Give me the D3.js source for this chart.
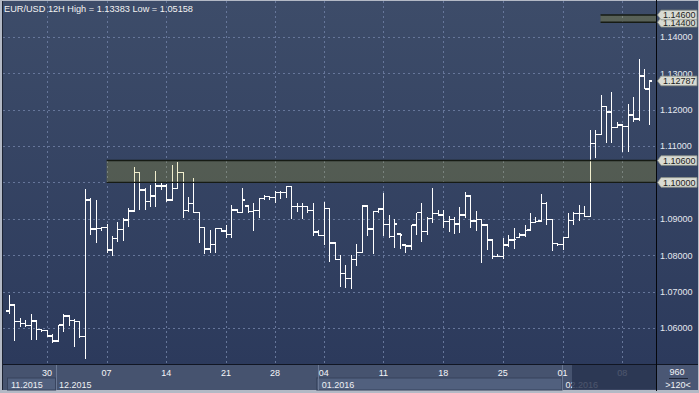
<!DOCTYPE html>
<html>
<head>
<meta charset="utf-8">
<script src="https://cdn.jsdelivr.net/npm/d3@7"></script>
<style>
body { margin: 0; background: #b3b9c5; }
svg { display: block; font-family: "Liberation Sans", Arial, sans-serif; }
</style>
</head>
<body>
<svg id="chart" width="699" height="393"></svg>
<script>
// EUR/USD 12H bars (index 0 = first bar on the left)
var opens = [1.06467,1.06632,1.06179,1.06129,1.06063,1.06192,1.05953,1.05931,1.05775,1.05643,
  1.06082,1.06330,1.06212,1.06173,1.05766,1.09517,1.08720,1.08739,1.08756,1.08143,
  1.08464,1.08706,1.08967,1.09214,1.10278,1.09791,1.09470,1.09626,1.09901,1.09901,
  1.09517,1.09838,1.10278,1.09223,1.09426,1.09179,1.08767,1.08170,1.08300,1.08739,
  1.08665,1.08574,1.09242,1.09179,1.09352,1.09195,1.09223,1.09563,1.09618,1.09591,
  1.09717,1.09717,1.09882,1.09332,1.09332,1.09332,1.09228,1.08637,1.08536,1.09283,
  1.08335,1.07882,1.07503,1.07365,1.07876,1.08080,1.09352,1.08714,1.09195,1.09269,
  1.08849,1.08508,1.08582,1.08280,1.08253,1.08830,1.09168,1.08646,1.09014,1.09151,
  1.09104,1.08920,1.08986,1.08857,1.09104,1.09626,1.08940,1.08986,1.08830,1.08418,
  1.07959,1.07959,1.08280,1.08418,1.08492,1.08555,1.08692,1.08904,1.08940,1.09426,
  1.08986,1.08327,1.08300,1.08492,1.08948,1.09151,1.09151,1.09063,1.11074,1.11322,
  1.12080,1.11934,1.11508,1.11577,1.11541,1.11852,1.11742,1.12929,1.12571];
var highs = [1.06907,1.06632,1.06266,1.06220,1.06371,1.06192,1.05973,1.05945,1.05835,1.06082,
  1.06376,1.06343,1.06239,1.06192,1.09811,1.09563,1.09517,1.08783,1.08857,1.08527,
  1.08912,1.09014,1.09297,1.10423,1.10278,1.09838,1.09929,1.10313,1.09975,1.09948,
  1.10478,1.10569,1.10278,1.09607,1.10113,1.09179,1.08783,1.08692,1.08739,1.08756,
  1.08830,1.09379,1.09242,1.09838,1.09352,1.09426,1.09580,1.09654,1.09626,1.09772,
  1.09764,1.09901,1.09901,1.09426,1.09426,1.09365,1.09426,1.08692,1.09470,1.09283,
  1.08371,1.08006,1.07731,1.08006,1.08300,1.09387,1.09352,1.09214,1.09289,1.09701,
  1.09104,1.08986,1.08582,1.08280,1.08830,1.09168,1.09426,1.09058,1.09838,1.09242,
  1.09242,1.09085,1.09058,1.09332,1.09745,1.09654,1.09214,1.08986,1.08830,1.08418,
  1.08025,1.08464,1.08555,1.08739,1.08602,1.08830,1.09168,1.09058,1.09673,1.09470,
  1.08986,1.08327,1.08508,1.09151,1.09195,1.09387,1.09338,1.11440,1.11440,1.12401,
  1.12080,1.12492,1.11668,1.11604,1.12154,1.12355,1.13383,1.13107,1.12813];
var lows = [1.06376,1.05643,1.06014,1.06036,1.05670,1.05684,1.05890,1.05753,1.05580,1.05615,
  1.05890,1.06055,1.05486,1.05725,1.05158,1.08555,1.08343,1.08673,1.08060,1.07978,
  1.08363,1.08398,1.08783,1.09187,1.09242,1.09242,1.09332,1.09332,1.09791,1.09470,
  1.09517,1.09838,1.09030,1.09195,1.09168,1.08343,1.08025,1.08052,1.08069,1.08629,
  1.08464,1.08464,1.09168,1.09179,1.09168,1.08673,1.09030,1.09517,1.09517,1.09426,
  1.09544,1.09563,1.08986,1.09179,1.08995,1.09159,1.08527,1.08527,1.08267,1.07822,
  1.07868,1.07113,1.07091,1.07071,1.07703,1.08080,1.08527,1.08025,1.09168,1.08527,
  1.08464,1.08190,1.08170,1.08069,1.08143,1.08555,1.08371,1.08555,1.08876,1.09077,
  1.08739,1.08646,1.08582,1.08602,1.09014,1.08739,1.08665,1.07778,1.08143,1.07887,
  1.07942,1.07887,1.08234,1.08170,1.08492,1.08492,1.08692,1.08893,1.08940,1.08830,
  1.08115,1.08261,1.08143,1.08464,1.08843,1.08940,1.09050,1.09050,1.10670,1.11302,
  1.11074,1.11074,1.11486,1.10844,1.10844,1.11646,1.11692,1.12566,1.11577];
var closes = [1.06632,1.06179,1.06129,1.06063,1.06192,1.05953,1.05931,1.05775,1.05643,1.06082,
  1.06330,1.06212,1.06173,1.05766,1.09517,1.08720,1.08739,1.08756,1.08143,1.08464,
  1.08706,1.08967,1.09214,1.10278,1.09791,1.09470,1.09626,1.09901,1.09901,1.09517,
  1.09838,1.10278,1.09223,1.09426,1.09179,1.08767,1.08170,1.08300,1.08739,1.08665,
  1.08574,1.09242,1.09179,1.09517,1.09195,1.09223,1.09563,1.09618,1.09591,1.09717,
  1.09717,1.09882,1.09332,1.09332,1.09332,1.09228,1.08637,1.08536,1.09283,1.08335,
  1.07882,1.07503,1.07365,1.07876,1.08080,1.09352,1.08714,1.09195,1.09269,1.08849,
  1.08508,1.08857,1.08555,1.08253,1.08830,1.09168,1.08646,1.09014,1.09151,1.09104,
  1.08920,1.08986,1.08857,1.09104,1.09626,1.08940,1.08986,1.08830,1.08418,1.07959,
  1.07959,1.08280,1.08418,1.08437,1.08555,1.08673,1.08904,1.08920,1.09426,1.08986,
  1.08327,1.08300,1.08492,1.08948,1.09151,1.09151,1.09063,1.11074,1.11322,1.12080,
  1.11934,1.11508,1.11577,1.11541,1.11852,1.11742,1.12929,1.12571,1.12787];

// x axis: bar index of each Monday, and its day label
var dayTickIndex = [7, 18, 29, 40, 49, 58, 69, 80, 91, 102, 113];
var dayTickLabels = ["30", "07", "14", "21", "28", "04", "11", "18", "25", "01", "08"];
// months along the bottom, with the bar index where each one starts
var monthLabels = ["11.2015", "12.2015", "01.2016", "02.2016"];
var monthStartIndex = [-1.1, 8.6, 57, 101.9];

var priceTicks = [1.06, 1.07, 1.08, 1.09, 1.10, 1.11, 1.12, 1.13, 1.14];
var priceTickLabels = ["1.06000", "1.07000", "1.08000", "1.09000", "1.10000", "1.11000", "1.12000", "1.13000", "1.14000"];

// horizontal zones (support / resistance)
var zoneLow = [1.10000, 1.14400];
var zoneHigh = [1.10600, 1.14600];
var zoneStartIndex = [18, 109];

// price tags on the right scale
var tagValues = [1.14400, 1.14600, 1.12787, 1.10600, 1.10000];
var tagLabels = ["1.14400", "1.14600", "1.12787", "1.10600", "1.10000"];

var title = "EUR/USD 12H High = 1.13383 Low = 1.05158";

var svg = d3.select("#chart");
var W = 699, H = 393;
var plotLeft = 3, plotRight = 657, plotTop = 1, plotBottom = 364;

var x = d3.scaleLinear().domain([-1, 119.4]).range([3.5, 657]);
var y = d3.scaleLinear().domain([1.05, 1.15]).range([364.4, 0.4]);
var half = (x(1) - x(0)) / 2;

var defs = svg.append("defs");
var grad = defs.append("linearGradient").attr("id", "bg").attr("x1", 0).attr("x2", 0).attr("y1", 0).attr("y2", 1);
grad.append("stop").attr("offset", "0%").attr("stop-color", "#3d4c69");
grad.append("stop").attr("offset", "100%").attr("stop-color", "#2c3a5c");

// outer frame
svg.append("rect").attr("width", W).attr("height", H).attr("fill", "#b3b9c5");
svg.append("rect")
    .attr("x", plotLeft).attr("y", plotTop)
    .attr("width", W - 1 - plotLeft).attr("height", plotBottom - plotTop)
    .attr("fill", "url(#bg)");
svg.append("line").attr("x1", 2.5).attr("x2", 2.5).attr("y1", 1).attr("y2", 390)
    .attr("stroke", "#1c2333");

// grid
var grid = svg.append("g").attr("stroke", "#66769a").attr("stroke-dasharray", "2,3").attr("shape-rendering", "crispEdges");
grid.selectAll(".hg").data(priceTicks).enter().append("line")
    .attr("x1", plotLeft).attr("x2", plotRight)
    .attr("y1", function(d) { return Math.round(y(d)) + 0.5; })
    .attr("y2", function(d) { return Math.round(y(d)) + 0.5; });
grid.selectAll(".vg").data(dayTickIndex).enter().append("line")
    .attr("y1", plotTop).attr("y2", plotBottom)
    .attr("x1", function(d) { return Math.round(x(d)) + 0.5; })
    .attr("x2", function(d) { return Math.round(x(d)) + 0.5; });

// OHLC bars
var bars = svg.append("g").attr("stroke", "#ffffff").attr("shape-rendering", "crispEdges");
var idx = d3.range(closes.length);
bars.selectAll(".hl").data(idx).enter().append("line")
    .attr("stroke-width", 1.2)
    .attr("x1", function(i) { return Math.round(x(i)) + 0.5; })
    .attr("x2", function(i) { return Math.round(x(i)) + 0.5; })
    .attr("y1", function(i) { return y(highs[i]); })
    .attr("y2", function(i) { return y(lows[i]); });
bars.selectAll(".op").data(idx).enter().append("line")
    .attr("stroke-width", 1.5)
    .attr("x1", function(i) { return x(i) - half; })
    .attr("x2", function(i) { return Math.round(x(i)) + 0.5; })
    .attr("y1", function(i) { return y(opens[i]); })
    .attr("y2", function(i) { return y(opens[i]); });
bars.selectAll(".cl").data(idx).enter().append("line")
    .attr("stroke-width", 1.5)
    .attr("x1", function(i) { return Math.round(x(i)) + 0.5; })
    .attr("x2", function(i) { return x(i) + half; })
    .attr("y1", function(i) { return y(closes[i]); })
    .attr("y2", function(i) { return y(closes[i]); });

// zones drawn over the bars
var zones = svg.append("g");
zoneLow.forEach(function(lo, k) {
    var x0 = x(zoneStartIndex[k]), y0 = y(zoneHigh[k]), y1 = y(lo);
    zones.append("rect")
        .attr("x", x0).attr("y", y0)
        .attr("width", plotRight - x0).attr("height", y1 - y0)
        .attr("fill", "#bdb31c").attr("fill-opacity", 0.22);
    zones.append("line").attr("x1", x0).attr("x2", plotRight).attr("y1", y0).attr("y2", y0)
        .attr("stroke", "#161b14").attr("stroke-width", 1.4);
    zones.append("line").attr("x1", x0).attr("x2", plotRight).attr("y1", y1).attr("y2", y1)
        .attr("stroke", "#161b14").attr("stroke-width", 1.4);
});

// title
svg.append("text").attr("x", 4).attr("y", 11.5)
    .attr("fill", "#f2f2f2").attr("font-size", "9.2px")
    .text(title);

// right price scale (a label sitting exactly under a tag is hidden by it)
svg.append("line").attr("x1", 656.5).attr("x2", 656.5).attr("y1", 0).attr("y2", 391)
    .attr("stroke", "#05070c").attr("stroke-width", 1);
var shownTicks = priceTicks.filter(function(d) {
    return tagValues.every(function(v) { return Math.abs(v - d) > 1e-6; });
});
svg.selectAll(".pl").data(shownTicks).enter().append("text")
    .attr("x", 660).attr("y", function(d) { return y(d) + 3.3; })
    .attr("fill", "#e4e8f0").attr("font-size", "9px")
    .text(function(d) { return priceTickLabels[priceTicks.indexOf(d)]; });

var tags = svg.append("g");
tagValues.forEach(function(v, k) {
    var cy = y(v);
    var pts = [[657.5, cy], [661, cy - 4.8], [697, cy - 4.8], [697, cy + 4.8], [661, cy + 4.8]];
    tags.append("path")
        .attr("d", "M" + pts.join("L") + "Z")
        .attr("fill", "#d9dbd3").attr("stroke", "#8a8f86").attr("stroke-width", 0.8);
    tags.append("text").attr("x", 663).attr("y", cy + 3.3)
        .attr("fill", "#1b1d22").attr("font-size", "9px")
        .text(tagLabels[k]);
});

// bottom time scale
var axis = svg.append("g");
axis.append("rect").attr("x", plotLeft).attr("y", 364).attr("width", 654).attr("height", 26)
    .attr("fill", "#46536f");
monthLabels.forEach(function(m, k) {
    var x0 = Math.max(plotLeft, x(monthStartIndex[k]));
    var x1 = k + 1 < monthLabels.length ? x(monthStartIndex[k + 1]) : plotRight;
    if (k % 2 === 0) {
        axis.append("rect").attr("x", k === 0 ? 7.5 : x0 - 1.5).attr("y", 378)
            .attr("width", x1 - (k === 0 ? 7.5 : x0 - 1.5)).attr("height", 12)
            .attr("fill", "#51607e").attr("stroke", "#36425c").attr("stroke-width", 1);
    }
    if (k > 0) {
        axis.append("line").attr("x1", Math.round(x0) + 0.5).attr("x2", Math.round(x0) + 0.5)
            .attr("y1", 365).attr("y2", 390).attr("stroke", "#6a7894");
    }
    axis.append("text").attr("x", (k === 0 ? 11 : x0 + 3.5)).attr("y", 387.5)
        .attr("fill", "#eef0f4").attr("font-size", "9px").text(m);
});
axis.selectAll(".dl").data(dayTickIndex).enter().append("text")
    .attr("x", function(d) { return x(d); }).attr("y", 375.5)
    .attr("text-anchor", "middle")
    .attr("fill", "#f4f5f8").attr("font-size", "9px")
    .text(function(d, i) { return dayTickLabels[i]; });
// darker panel over the last part of the time scale
axis.append("rect").attr("x", 572).attr("y", 365).attr("width", 84).attr("height", 24.5)
    .attr("fill", "#27324e").attr("fill-opacity", 0.82);
axis.append("line").attr("x1", plotLeft).attr("x2", W - 1).attr("y1", 364.5).attr("y2", 364.5)
    .attr("stroke", "#111623");

// corner box
var corner = svg.append("g");
corner.append("rect").attr("x", 657).attr("y", 365).attr("width", 41).attr("height", 25)
    .attr("fill", "#4a5774");
corner.append("text").attr("x", 677).attr("y", 374.5).attr("text-anchor", "middle")
    .attr("fill", "#f2f3f6").attr("font-size", "9px").text("960");
corner.append("line").attr("x1", 669).attr("x2", 688).attr("y1", 378.5).attr("y2", 378.5)
    .attr("stroke", "#1d2436");
corner.append("text").attr("x", 678).attr("y", 387.5).attr("text-anchor", "middle")
    .attr("fill", "#f2f3f6").attr("font-size", "9px").text(">120<");
svg.append("line").attr("x1", 656.5).attr("x2", 656.5).attr("y1", 364).attr("y2", 391)
    .attr("stroke", "#05070c");
</script>
</body>
</html>
